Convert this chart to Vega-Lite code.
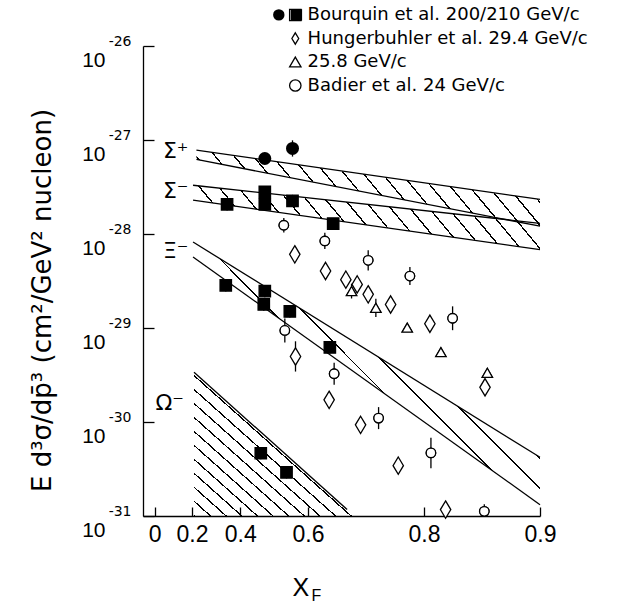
{
  "$schema": "https://vega.github.io/schema/vega-lite/v6.json",
  "width": 397,
  "height": 470,
  "autosize": "none",
  "padding": {"left": 143, "top": 46, "right": 81, "bottom": 91},
  "background": "white",
  "config": {"view": {"stroke": null}, "axis": {"grid": false}},
  "datasets": {
    "pts": [
      {"series": "sigp", "u": 0.5179, "v": 6.36e-28, "lo": 5.63e-28, "hi": 7.19e-28},
      {"series": "sigp", "u": 0.4389, "v": 8.13e-28, "lo": 6.66e-28, "hi": 9.92e-28},
      {"series": "Bourquin et al. 200/210 GeV/c", "u": 0.6489, "v": 2.07e-28, "lo": 1.78e-28, "hi": 2.40e-28},
      {"series": "Bourquin et al. 200/210 GeV/c", "u": 0.5179, "v": 2.80e-28, "lo": 2.41e-28, "hi": 3.25e-28},
      {"series": "Bourquin et al. 200/210 GeV/c", "u": 0.5179, "v": 2.07e-28, "lo": 1.78e-28, "hi": 2.40e-28},
      {"series": "Bourquin et al. 200/210 GeV/c", "u": 0.4389, "v": 2.25e-28, "lo": 1.94e-28, "hi": 2.61e-28},
      {"series": "Bourquin et al. 200/210 GeV/c", "u": 0.3442, "v": 1.29e-28},
      {"series": "Bourquin et al. 200/210 GeV/c", "u": 0.6540, "v": 2.84e-29, "lo": 2.45e-29, "hi": 3.29e-29},
      {"series": "Bourquin et al. 200/210 GeV/c", "u": 0.5179, "v": 2.47e-29, "lo": 2.13e-29, "hi": 2.87e-29},
      {"series": "Bourquin et al. 200/210 GeV/c", "u": 0.5211, "v": 1.78e-29, "lo": 1.53e-29, "hi": 2.06e-29},
      {"series": "Bourquin et al. 200/210 GeV/c", "u": 0.4460, "v": 1.50e-29, "lo": 1.29e-29, "hi": 1.74e-29},
      {"series": "Bourquin et al. 200/210 GeV/c", "u": 0.3511, "v": 6.21e-30, "lo": 5.35e-30, "hi": 7.20e-30},
      {"series": "Bourquin et al. 200/210 GeV/c", "u": 0.5305, "v": 4.65e-31, "lo": 4.01e-31, "hi": 5.39e-31},
      {"series": "Bourquin et al. 200/210 GeV/c", "u": 0.4549, "v": 2.91e-31, "lo": 2.51e-31, "hi": 3.38e-31},
      {"series": "Hungerbuhler et al. 29.4 GeV/c", "u": 0.4329, "v": 6.08e-29},
      {"series": "Hungerbuhler et al. 29.4 GeV/c", "u": 0.3603, "v": 4.04e-29},
      {"series": "Hungerbuhler et al. 29.4 GeV/c", "u": 0.3191, "v": 3.27e-29},
      {"series": "Hungerbuhler et al. 29.4 GeV/c", "u": 0.2982, "v": 2.91e-29},
      {"series": "Hungerbuhler et al. 29.4 GeV/c", "u": 0.2792, "v": 2.28e-29},
      {"series": "Hungerbuhler et al. 29.4 GeV/c", "u": 0.2442, "v": 1.78e-29},
      {"series": "Hungerbuhler et al. 29.4 GeV/c", "u": 0.1931, "v": 1.11e-29},
      {"series": "Hungerbuhler et al. 29.4 GeV/c", "u": 0.4311, "v": 4.98e-30, "lo": 3.44e-30, "hi": 7.22e-30},
      {"series": "Hungerbuhler et al. 29.4 GeV/c", "u": 0.3526, "v": 1.72e-30},
      {"series": "Hungerbuhler et al. 29.4 GeV/c", "u": 0.2922, "v": 9.32e-31},
      {"series": "Hungerbuhler et al. 29.4 GeV/c", "u": 0.2333, "v": 3.43e-31},
      {"series": "Hungerbuhler et al. 29.4 GeV/c", "u": 0.1758, "v": 1.17e-31},
      {"series": "Hungerbuhler et al. 29.4 GeV/c", "u": 0.1389, "v": 2.34e-30},
      {"series": "25.8 GeV/c", "u": 0.3084, "v": 2.47e-29, "lo": 2.06e-29, "hi": 2.96e-29},
      {"series": "25.8 GeV/c", "u": 0.2667, "v": 1.64e-29, "lo": 1.31e-29, "hi": 2.05e-29},
      {"series": "25.8 GeV/c", "u": 0.2211, "v": 1.01e-29},
      {"series": "25.8 GeV/c", "u": 0.1808, "v": 5.53e-30},
      {"series": "25.8 GeV/c", "u": 0.1370, "v": 3.34e-30},
      {"series": "Badier et al. 24 GeV/c", "u": 0.4623, "v": 1.24e-28, "lo": 1.04e-28, "hi": 1.48e-28},
      {"series": "Badier et al. 24 GeV/c", "u": 0.3618, "v": 8.43e-29, "lo": 6.91e-29, "hi": 1.03e-28},
      {"series": "Badier et al. 24 GeV/c", "u": 0.2792, "v": 5.25e-29, "lo": 4.10e-29, "hi": 6.72e-29},
      {"series": "Badier et al. 24 GeV/c", "u": 0.2176, "v": 3.57e-29, "lo": 2.86e-29, "hi": 4.46e-29},
      {"series": "Badier et al. 24 GeV/c", "u": 0.1686, "v": 1.27e-29, "lo": 9.48e-30, "hi": 1.70e-29},
      {"series": "Badier et al. 24 GeV/c", "u": 0.4595, "v": 9.42e-30, "lo": 7.03e-30, "hi": 1.26e-29},
      {"series": "Badier et al. 24 GeV/c", "u": 0.3422, "v": 3.26e-30, "lo": 2.49e-30, "hi": 4.27e-30},
      {"series": "Badier et al. 24 GeV/c", "u": 0.2624, "v": 1.10e-30, "lo": 8.40e-31, "hi": 1.44e-30},
      {"series": "Badier et al. 24 GeV/c", "u": 0.1919, "v": 4.69e-31, "lo": 3.23e-31, "hi": 6.80e-31},
      {"series": "Badier et al. 24 GeV/c", "u": 0.1395, "v": 1.12e-31, "lo": 1.12e-31, "hi": 1.33e-31}
    ],
    "edges": [
      {"edge": "sp_top", "u": 0.7793, "v": 7.80e-28}, {"edge": "sp_top", "u": 0.1, "v": 2.33e-28},
      {"edge": "sp_bot", "u": 0.7793, "v": 6.21e-28}, {"edge": "sp_bot", "u": 0.1, "v": 1.21e-28},
      {"edge": "sm_top", "u": 0.7953, "v": 3.30e-28}, {"edge": "sm_top", "u": 0.1, "v": 1.30e-28},
      {"edge": "sm_bot", "u": 0.7953, "v": 2.29e-28}, {"edge": "sm_bot", "u": 0.1, "v": 6.82e-29},
      {"edge": "xi_top", "u": 0.7953, "v": 8.22e-29}, {"edge": "xi_top", "u": 0.1, "v": 4.21e-31},
      {"edge": "xi_bot", "u": 0.7953, "v": 5.69e-29}, {"edge": "xi_bot", "u": 0.1, "v": 1.32e-31},
      {"edge": "om_top", "u": 0.7906, "v": 3.39e-30}, {"edge": "om_top", "u": 0.3166, "v": 1.17e-31}
    ],
    "bands": [
      {"band": "sp", "u": 0.7793, "v": 7.80e-28, "v2": 6.21e-28},
      {"band": "sp", "u": 0.1, "v": 2.33e-28, "v2": 1.21e-28},
      {"band": "sm", "u": 0.7953, "v": 3.30e-28, "v2": 2.29e-28},
      {"band": "sm", "u": 0.1, "v": 1.30e-28, "v2": 6.82e-29},
      {"band": "xi", "u": 0.7953, "v": 8.22e-29, "v2": 5.69e-29},
      {"band": "xi", "u": 0.1, "v": 4.21e-31, "v2": 1.32e-31},
      {"band": "om", "u": 0.7906, "v": 3.39e-30, "v2": 1e-31},
      {"band": "om", "u": 0.3023, "v": 1e-31, "v2": 1e-31}
    ],
    "labels": [
      {"t": "Σ⁺", "u": 0.882, "v": 7.61e-28},
      {"t": "Σ⁻", "u": 0.882, "v": 2.85e-28},
      {"t": "Ξ⁻", "u": 0.882, "v": 6.54e-29},
      {"t": "Ω⁻", "u": 0.914, "v": 1.61e-30}
    ]
  },
  "encoding": {
    "x": {"field": "u", "type": "quantitative", "scale": {"type": "log", "domain": [0.1, 1.0725], "reverse": true, "nice": false}, "axis": null},
    "y": {"field": "v", "type": "quantitative", "scale": {"type": "log", "domain": [1e-31, 1e-26], "nice": false}, "axis": null}
  },
  "layer": [
    {
      "data": {"name": "bands"},
      "transform": [{"filter": "datum.band == 'sp'"}],
      "mark": {"type": "area", "opacity": 1, "stroke": null, "fill": {"gradient": "linear", "x1": 0, "y1": 1, "x2": 1.289, "y2": 0.7617, "stops": [
        {"offset": 0, "color": "#000"}, {"offset": 0.00375, "color": "#000"}, {"offset": 0.00375, "color": "transparent"}, {"offset": 0.041667, "color": "transparent"},
        {"offset": 0.041667, "color": "#000"}, {"offset": 0.045417, "color": "#000"}, {"offset": 0.045417, "color": "transparent"}, {"offset": 0.083333, "color": "transparent"},
        {"offset": 0.083333, "color": "#000"}, {"offset": 0.087083, "color": "#000"}, {"offset": 0.087083, "color": "transparent"}, {"offset": 0.125, "color": "transparent"},
        {"offset": 0.125, "color": "#000"}, {"offset": 0.12875, "color": "#000"}, {"offset": 0.12875, "color": "transparent"}, {"offset": 0.166667, "color": "transparent"},
        {"offset": 0.166667, "color": "#000"}, {"offset": 0.170417, "color": "#000"}, {"offset": 0.170417, "color": "transparent"}, {"offset": 0.208333, "color": "transparent"},
        {"offset": 0.208333, "color": "#000"}, {"offset": 0.212083, "color": "#000"}, {"offset": 0.212083, "color": "transparent"}, {"offset": 0.25, "color": "transparent"},
        {"offset": 0.25, "color": "#000"}, {"offset": 0.25375, "color": "#000"}, {"offset": 0.25375, "color": "transparent"}, {"offset": 0.291667, "color": "transparent"},
        {"offset": 0.291667, "color": "#000"}, {"offset": 0.295417, "color": "#000"}, {"offset": 0.295417, "color": "transparent"}, {"offset": 0.333333, "color": "transparent"},
        {"offset": 0.333333, "color": "#000"}, {"offset": 0.337083, "color": "#000"}, {"offset": 0.337083, "color": "transparent"}, {"offset": 0.375, "color": "transparent"},
        {"offset": 0.375, "color": "#000"}, {"offset": 0.37875, "color": "#000"}, {"offset": 0.37875, "color": "transparent"}, {"offset": 0.416667, "color": "transparent"},
        {"offset": 0.416667, "color": "#000"}, {"offset": 0.420417, "color": "#000"}, {"offset": 0.420417, "color": "transparent"}, {"offset": 0.458333, "color": "transparent"},
        {"offset": 0.458333, "color": "#000"}, {"offset": 0.462083, "color": "#000"}, {"offset": 0.462083, "color": "transparent"}, {"offset": 0.5, "color": "transparent"},
        {"offset": 0.5, "color": "#000"}, {"offset": 0.50375, "color": "#000"}, {"offset": 0.50375, "color": "transparent"}, {"offset": 0.541667, "color": "transparent"},
        {"offset": 0.541667, "color": "#000"}, {"offset": 0.545417, "color": "#000"}, {"offset": 0.545417, "color": "transparent"}, {"offset": 0.583333, "color": "transparent"},
        {"offset": 0.583333, "color": "#000"}, {"offset": 0.587083, "color": "#000"}, {"offset": 0.587083, "color": "transparent"}, {"offset": 0.625, "color": "transparent"},
        {"offset": 0.625, "color": "#000"}, {"offset": 0.62875, "color": "#000"}, {"offset": 0.62875, "color": "transparent"}, {"offset": 0.666667, "color": "transparent"},
        {"offset": 0.666667, "color": "#000"}, {"offset": 0.670417, "color": "#000"}, {"offset": 0.670417, "color": "transparent"}, {"offset": 0.708333, "color": "transparent"},
        {"offset": 0.708333, "color": "#000"}, {"offset": 0.712083, "color": "#000"}, {"offset": 0.712083, "color": "transparent"}, {"offset": 0.75, "color": "transparent"},
        {"offset": 0.75, "color": "#000"}, {"offset": 0.75375, "color": "#000"}, {"offset": 0.75375, "color": "transparent"}, {"offset": 0.791667, "color": "transparent"},
        {"offset": 0.791667, "color": "#000"}, {"offset": 0.795417, "color": "#000"}, {"offset": 0.795417, "color": "transparent"}, {"offset": 0.833333, "color": "transparent"},
        {"offset": 0.833333, "color": "#000"}, {"offset": 0.837083, "color": "#000"}, {"offset": 0.837083, "color": "transparent"}, {"offset": 0.875, "color": "transparent"},
        {"offset": 0.875, "color": "#000"}, {"offset": 0.87875, "color": "#000"}, {"offset": 0.87875, "color": "transparent"}, {"offset": 0.916667, "color": "transparent"},
        {"offset": 0.916667, "color": "#000"}, {"offset": 0.920417, "color": "#000"}, {"offset": 0.920417, "color": "transparent"}, {"offset": 1, "color": "transparent"}
      ]}},
      "encoding": {"y2": {"field": "v2"}}
    },
    {
      "data": {"name": "bands"},
      "transform": [{"filter": "datum.band == 'sm'"}],
      "mark": {"type": "area", "opacity": 1, "stroke": null, "fill": {"gradient": "linear", "x1": 0, "y1": 1, "x2": 1.302, "y2": 0.7983, "stops": [
        {"offset": 0, "color": "#000"}, {"offset": 0.00375, "color": "#000"}, {"offset": 0.00375, "color": "transparent"}, {"offset": 0.041667, "color": "transparent"},
        {"offset": 0.041667, "color": "#000"}, {"offset": 0.045417, "color": "#000"}, {"offset": 0.045417, "color": "transparent"}, {"offset": 0.083333, "color": "transparent"},
        {"offset": 0.083333, "color": "#000"}, {"offset": 0.087083, "color": "#000"}, {"offset": 0.087083, "color": "transparent"}, {"offset": 0.125, "color": "transparent"},
        {"offset": 0.125, "color": "#000"}, {"offset": 0.12875, "color": "#000"}, {"offset": 0.12875, "color": "transparent"}, {"offset": 0.166667, "color": "transparent"},
        {"offset": 0.166667, "color": "#000"}, {"offset": 0.170417, "color": "#000"}, {"offset": 0.170417, "color": "transparent"}, {"offset": 0.208333, "color": "transparent"},
        {"offset": 0.208333, "color": "#000"}, {"offset": 0.212083, "color": "#000"}, {"offset": 0.212083, "color": "transparent"}, {"offset": 0.25, "color": "transparent"},
        {"offset": 0.25, "color": "#000"}, {"offset": 0.25375, "color": "#000"}, {"offset": 0.25375, "color": "transparent"}, {"offset": 0.291667, "color": "transparent"},
        {"offset": 0.291667, "color": "#000"}, {"offset": 0.295417, "color": "#000"}, {"offset": 0.295417, "color": "transparent"}, {"offset": 0.333333, "color": "transparent"},
        {"offset": 0.333333, "color": "#000"}, {"offset": 0.337083, "color": "#000"}, {"offset": 0.337083, "color": "transparent"}, {"offset": 0.375, "color": "transparent"},
        {"offset": 0.375, "color": "#000"}, {"offset": 0.37875, "color": "#000"}, {"offset": 0.37875, "color": "transparent"}, {"offset": 0.416667, "color": "transparent"},
        {"offset": 0.416667, "color": "#000"}, {"offset": 0.420417, "color": "#000"}, {"offset": 0.420417, "color": "transparent"}, {"offset": 0.458333, "color": "transparent"},
        {"offset": 0.458333, "color": "#000"}, {"offset": 0.462083, "color": "#000"}, {"offset": 0.462083, "color": "transparent"}, {"offset": 0.5, "color": "transparent"},
        {"offset": 0.5, "color": "#000"}, {"offset": 0.50375, "color": "#000"}, {"offset": 0.50375, "color": "transparent"}, {"offset": 0.541667, "color": "transparent"},
        {"offset": 0.541667, "color": "#000"}, {"offset": 0.545417, "color": "#000"}, {"offset": 0.545417, "color": "transparent"}, {"offset": 0.583333, "color": "transparent"},
        {"offset": 0.583333, "color": "#000"}, {"offset": 0.587083, "color": "#000"}, {"offset": 0.587083, "color": "transparent"}, {"offset": 0.625, "color": "transparent"},
        {"offset": 0.625, "color": "#000"}, {"offset": 0.62875, "color": "#000"}, {"offset": 0.62875, "color": "transparent"}, {"offset": 0.666667, "color": "transparent"},
        {"offset": 0.666667, "color": "#000"}, {"offset": 0.670417, "color": "#000"}, {"offset": 0.670417, "color": "transparent"}, {"offset": 0.708333, "color": "transparent"},
        {"offset": 0.708333, "color": "#000"}, {"offset": 0.712083, "color": "#000"}, {"offset": 0.712083, "color": "transparent"}, {"offset": 0.75, "color": "transparent"},
        {"offset": 0.75, "color": "#000"}, {"offset": 0.75375, "color": "#000"}, {"offset": 0.75375, "color": "transparent"}, {"offset": 0.791667, "color": "transparent"},
        {"offset": 0.791667, "color": "#000"}, {"offset": 0.795417, "color": "#000"}, {"offset": 0.795417, "color": "transparent"}, {"offset": 0.833333, "color": "transparent"},
        {"offset": 0.833333, "color": "#000"}, {"offset": 0.837083, "color": "#000"}, {"offset": 0.837083, "color": "transparent"}, {"offset": 0.875, "color": "transparent"},
        {"offset": 0.875, "color": "#000"}, {"offset": 0.87875, "color": "#000"}, {"offset": 0.87875, "color": "transparent"}, {"offset": 1, "color": "transparent"}
      ]}},
      "encoding": {"y2": {"field": "v2"}}
    },
    {
      "data": {"name": "bands"},
      "transform": [{"filter": "datum.band == 'xi'"}],
      "mark": {"type": "area", "opacity": 1, "stroke": null, "fill": {"gradient": "linear", "x1": 0, "y1": 1, "x2": 1.327, "y2": -0.004, "stops": [
        {"offset": 0, "color": "#000"}, {"offset": 0.0026, "color": "#000"}, {"offset": 0.0026, "color": "transparent"}, {"offset": 0.041667, "color": "transparent"},
        {"offset": 0.041667, "color": "#000"}, {"offset": 0.044267, "color": "#000"}, {"offset": 0.044267, "color": "transparent"}, {"offset": 0.083333, "color": "transparent"},
        {"offset": 0.083333, "color": "#000"}, {"offset": 0.085933, "color": "#000"}, {"offset": 0.085933, "color": "transparent"}, {"offset": 0.125, "color": "transparent"},
        {"offset": 0.125, "color": "#000"}, {"offset": 0.1276, "color": "#000"}, {"offset": 0.1276, "color": "transparent"}, {"offset": 0.166667, "color": "transparent"},
        {"offset": 0.166667, "color": "#000"}, {"offset": 0.169267, "color": "#000"}, {"offset": 0.169267, "color": "transparent"}, {"offset": 0.208333, "color": "transparent"},
        {"offset": 0.208333, "color": "#000"}, {"offset": 0.210933, "color": "#000"}, {"offset": 0.210933, "color": "transparent"}, {"offset": 0.25, "color": "transparent"},
        {"offset": 0.25, "color": "#000"}, {"offset": 0.2526, "color": "#000"}, {"offset": 0.2526, "color": "transparent"}, {"offset": 0.291667, "color": "transparent"},
        {"offset": 0.291667, "color": "#000"}, {"offset": 0.294267, "color": "#000"}, {"offset": 0.294267, "color": "transparent"}, {"offset": 0.333333, "color": "transparent"},
        {"offset": 0.333333, "color": "#000"}, {"offset": 0.335933, "color": "#000"}, {"offset": 0.335933, "color": "transparent"}, {"offset": 0.375, "color": "transparent"},
        {"offset": 0.375, "color": "#000"}, {"offset": 0.3776, "color": "#000"}, {"offset": 0.3776, "color": "transparent"}, {"offset": 0.416667, "color": "transparent"},
        {"offset": 0.416667, "color": "#000"}, {"offset": 0.419267, "color": "#000"}, {"offset": 0.419267, "color": "transparent"}, {"offset": 0.458333, "color": "transparent"},
        {"offset": 0.458333, "color": "#000"}, {"offset": 0.460933, "color": "#000"}, {"offset": 0.460933, "color": "transparent"}, {"offset": 0.5, "color": "transparent"},
        {"offset": 0.5, "color": "#000"}, {"offset": 0.5026, "color": "#000"}, {"offset": 0.5026, "color": "transparent"}, {"offset": 0.541667, "color": "transparent"},
        {"offset": 0.541667, "color": "#000"}, {"offset": 0.544267, "color": "#000"}, {"offset": 0.544267, "color": "transparent"}, {"offset": 0.583333, "color": "transparent"},
        {"offset": 0.583333, "color": "#000"}, {"offset": 0.585933, "color": "#000"}, {"offset": 0.585933, "color": "transparent"}, {"offset": 0.625, "color": "transparent"},
        {"offset": 0.625, "color": "#000"}, {"offset": 0.6276, "color": "#000"}, {"offset": 0.6276, "color": "transparent"}, {"offset": 0.666667, "color": "transparent"},
        {"offset": 0.666667, "color": "#000"}, {"offset": 0.669267, "color": "#000"}, {"offset": 0.669267, "color": "transparent"}, {"offset": 0.708333, "color": "transparent"},
        {"offset": 0.708333, "color": "#000"}, {"offset": 0.710933, "color": "#000"}, {"offset": 0.710933, "color": "transparent"}, {"offset": 0.75, "color": "transparent"},
        {"offset": 0.75, "color": "#000"}, {"offset": 0.7526, "color": "#000"}, {"offset": 0.7526, "color": "transparent"}, {"offset": 0.791667, "color": "transparent"},
        {"offset": 0.791667, "color": "#000"}, {"offset": 0.794267, "color": "#000"}, {"offset": 0.794267, "color": "transparent"}, {"offset": 0.833333, "color": "transparent"},
        {"offset": 0.833333, "color": "#000"}, {"offset": 0.835933, "color": "#000"}, {"offset": 0.835933, "color": "transparent"}, {"offset": 1, "color": "transparent"}
      ]}},
      "encoding": {"y2": {"field": "v2"}}
    },
    {
      "data": {"name": "bands"},
      "transform": [{"filter": "datum.band == 'om'"}],
      "mark": {"type": "area", "opacity": 1, "stroke": null, "fill": {"gradient": "linear", "x1": 0, "y1": 1, "x2": 1.165, "y2": -0.165, "stops": [
        {"offset": 0, "color": "#000"}, {"offset": 0.005, "color": "#000"}, {"offset": 0.005, "color": "transparent"}, {"offset": 0.041667, "color": "transparent"},
        {"offset": 0.041667, "color": "#000"}, {"offset": 0.046667, "color": "#000"}, {"offset": 0.046667, "color": "transparent"}, {"offset": 0.083333, "color": "transparent"},
        {"offset": 0.083333, "color": "#000"}, {"offset": 0.088333, "color": "#000"}, {"offset": 0.088333, "color": "transparent"}, {"offset": 0.125, "color": "transparent"},
        {"offset": 0.125, "color": "#000"}, {"offset": 0.13, "color": "#000"}, {"offset": 0.13, "color": "transparent"}, {"offset": 0.166667, "color": "transparent"},
        {"offset": 0.166667, "color": "#000"}, {"offset": 0.171667, "color": "#000"}, {"offset": 0.171667, "color": "transparent"}, {"offset": 0.208333, "color": "transparent"},
        {"offset": 0.208333, "color": "#000"}, {"offset": 0.213333, "color": "#000"}, {"offset": 0.213333, "color": "transparent"}, {"offset": 0.25, "color": "transparent"},
        {"offset": 0.25, "color": "#000"}, {"offset": 0.255, "color": "#000"}, {"offset": 0.255, "color": "transparent"}, {"offset": 0.291667, "color": "transparent"},
        {"offset": 0.291667, "color": "#000"}, {"offset": 0.296667, "color": "#000"}, {"offset": 0.296667, "color": "transparent"}, {"offset": 0.333333, "color": "transparent"},
        {"offset": 0.333333, "color": "#000"}, {"offset": 0.338333, "color": "#000"}, {"offset": 0.338333, "color": "transparent"}, {"offset": 0.375, "color": "transparent"},
        {"offset": 0.375, "color": "#000"}, {"offset": 0.38, "color": "#000"}, {"offset": 0.38, "color": "transparent"}, {"offset": 0.416667, "color": "transparent"},
        {"offset": 0.416667, "color": "#000"}, {"offset": 0.421667, "color": "#000"}, {"offset": 0.421667, "color": "transparent"}, {"offset": 0.458333, "color": "transparent"},
        {"offset": 0.458333, "color": "#000"}, {"offset": 0.463333, "color": "#000"}, {"offset": 0.463333, "color": "transparent"}, {"offset": 0.5, "color": "transparent"},
        {"offset": 0.5, "color": "#000"}, {"offset": 0.505, "color": "#000"}, {"offset": 0.505, "color": "transparent"}, {"offset": 0.541667, "color": "transparent"},
        {"offset": 0.541667, "color": "#000"}, {"offset": 0.546667, "color": "#000"}, {"offset": 0.546667, "color": "transparent"}, {"offset": 0.583333, "color": "transparent"},
        {"offset": 0.583333, "color": "#000"}, {"offset": 0.588333, "color": "#000"}, {"offset": 0.588333, "color": "transparent"}, {"offset": 0.625, "color": "transparent"},
        {"offset": 0.625, "color": "#000"}, {"offset": 0.63, "color": "#000"}, {"offset": 0.63, "color": "transparent"}, {"offset": 0.666667, "color": "transparent"},
        {"offset": 0.666667, "color": "#000"}, {"offset": 0.671667, "color": "#000"}, {"offset": 0.671667, "color": "transparent"}, {"offset": 0.708333, "color": "transparent"},
        {"offset": 0.708333, "color": "#000"}, {"offset": 0.713333, "color": "#000"}, {"offset": 0.713333, "color": "transparent"}, {"offset": 0.75, "color": "transparent"},
        {"offset": 0.75, "color": "#000"}, {"offset": 0.755, "color": "#000"}, {"offset": 0.755, "color": "transparent"}, {"offset": 0.791667, "color": "transparent"},
        {"offset": 0.791667, "color": "#000"}, {"offset": 0.796667, "color": "#000"}, {"offset": 0.796667, "color": "transparent"}, {"offset": 0.833333, "color": "transparent"},
        {"offset": 0.833333, "color": "#000"}, {"offset": 0.838333, "color": "#000"}, {"offset": 0.838333, "color": "transparent"}, {"offset": 1, "color": "transparent"}
      ]}},
      "encoding": {"y2": {"field": "v2"}}
    },
    {
      "data": {"name": "edges"},
      "mark": {"type": "line", "stroke": "black", "strokeWidth": 1.3},
      "encoding": {"detail": {"field": "edge", "type": "nominal"}}
    },
    {
      "data": {"name": "pts"},
      "mark": {"type": "rule", "stroke": "black", "strokeWidth": 1.3},
      "encoding": {
        "x": {"field": "u", "type": "quantitative", "scale": {"type": "log", "domain": [0.1, 1.0725], "reverse": true, "nice": false},
          "axis": {"orient": "bottom", "labels": false, "ticks": false, "domain": false, "grid": false, "title": "F", "titleFont": "Liberation Sans", "titleFontSize": 16, "titleFontWeight": "normal", "titleColor": "black", "titleX": 168, "titleY": 84, "titleAlign": "left", "titleBaseline": "alphabetic"}},
        "y": {"field": "lo", "type": "quantitative", "scale": {"type": "log", "domain": [1e-31, 1e-26], "nice": false},
          "axis": {"orient": "left", "values": [1e-26, 1e-27, 1e-28, 1e-29, 1e-30, 1e-31], "labelExpr": "'-' + round(-log(datum.value)/LN10)", "labelFont": "DejaVu Sans", "labelFontSize": 14, "labelColor": "black", "labelBaseline": "alphabetic", "labelOffset": -1, "labelPadding": 12, "labelFlush": false, "labelOverlap": false, "ticks": false, "domain": false, "grid": false, "title": null}},
        "y2": {"field": "hi"}
      }
    },
    {
      "data": {"name": "pts"},
      "transform": [{"filter": "datum.series != 'sigp'"}],
      "mark": {"type": "point", "filled": false, "stroke": "black", "strokeWidth": 1.3, "size": 90, "opacity": 1},
      "encoding": {
        "x": {"field": "u", "type": "quantitative", "scale": {"type": "log", "domain": [0.1, 1.0725], "reverse": true, "nice": false},
          "axis": {"orient": "bottom", "values": [1, 0.8, 0.6, 0.4, 0.2, 0.1], "labelExpr": "datum.value > 0.99 ? '0' : format(1 - datum.value, '.1f')", "labelFont": "Liberation Sans", "labelFontSize": 23, "labelColor": "black", "labelPadding": 16, "labelFlush": false, "labelOverlap": false, "tickSize": -9, "tickColor": "black", "tickWidth": 1.3, "domainColor": "black", "domainWidth": 1.3, "grid": false, "title": "X", "titleFont": "Liberation Sans", "titleFontSize": 25, "titleFontWeight": "normal", "titleColor": "black", "titleX": 149, "titleY": 79, "titleAlign": "left", "titleBaseline": "alphabetic"}},
        "y": {"field": "v", "type": "quantitative", "scale": {"type": "log", "domain": [1e-31, 1e-26], "nice": false},
          "axis": {"orient": "left", "values": [1e-26, 1e-27, 1e-28, 1e-29, 1e-30, 1e-31], "labelExpr": "'10'", "labelFont": "Liberation Sans", "labelFontSize": 21, "labelColor": "black", "labelBaseline": "alphabetic", "labelOffset": 20.5, "labelPadding": 49, "labelFlush": false, "labelOverlap": false, "tickSize": -11, "tickColor": "black", "tickWidth": 1.3, "domainColor": "black", "domainWidth": 1.3, "grid": false, "title": "E  d³σ/dp̄³   (cm²/GeV² nucleon)", "titleFont": "DejaVu Sans", "titleFontSize": 26, "titleFontWeight": "normal", "titleColor": "black", "titleX": -93, "titleY": 254, "titleAngle": -90, "titleAlign": "center", "titleBaseline": "alphabetic"}},
        "shape": {"field": "series", "type": "nominal",
          "scale": {"domain": ["Bourquin et al. 200/210 GeV/c", "Hungerbuhler et al. 29.4 GeV/c", "25.8 GeV/c", "Badier et al. 24 GeV/c"], "range": ["square", "M0,-1L0.6,0L0,1L-0.6,0Z", "triangle-up", "circle"]},
          "legend": {"title": null, "orient": "none", "legendX": 143.3, "legendY": -40, "padding": 0, "rowPadding": 5.5, "symbolSize": 130, "symbolStrokeColor": "black", "symbolStrokeWidth": 1.3, "labelFont": "DejaVu Sans", "labelFontSize": 18, "labelColor": "black", "labelOffset": 3.3, "labelLimit": 500}}
      }
    },
    {
      "data": {"name": "pts"},
      "transform": [{"filter": "datum.series == 'Badier et al. 24 GeV/c'"}],
      "mark": {"type": "point", "shape": "circle", "filled": true, "fill": "white", "stroke": "black", "strokeWidth": 1.3, "size": 90, "opacity": 1}
    },
    {
      "data": {"name": "pts"},
      "transform": [{"filter": "datum.series == 'Bourquin et al. 200/210 GeV/c'"}],
      "mark": {"type": "point", "shape": "square", "filled": true, "fill": "black", "stroke": "black", "strokeWidth": 1.3, "size": 130, "opacity": 1}
    },
    {
      "data": {"name": "pts"},
      "transform": [{"filter": "datum.series == 'Hungerbuhler et al. 29.4 GeV/c'"}],
      "mark": {"type": "point", "shape": "M0,-1L0.6,0L0,1L-0.6,0Z", "filled": true, "fill": "white", "stroke": "black", "strokeWidth": 1.3, "size": 300, "opacity": 1}
    },
    {
      "data": {"name": "pts"},
      "transform": [{"filter": "datum.series == '25.8 GeV/c'"}],
      "mark": {"type": "point", "shape": "triangle-up", "filled": true, "fill": "white", "stroke": "black", "strokeWidth": 1.3, "size": 110, "opacity": 1}
    },
    {
      "data": {"name": "pts"},
      "transform": [{"filter": "datum.series == 'sigp'"}],
      "mark": {"type": "point", "filled": true, "fill": "black", "stroke": "black", "size": 121, "opacity": 1},
      "encoding": {
        "shape": {"field": "series", "type": "nominal", "scale": {"domain": ["sigp", "sq"], "range": ["circle", "square"]},
          "legend": {"title": null, "orient": "none", "direction": "horizontal", "columns": 2, "columnPadding": 0.6, "legendX": 129.3, "legendY": -37.7, "padding": 0, "labelExpr": "''", "labelOffset": 0, "labelFontSize": 1, "symbolFillColor": "black", "symbolStrokeColor": "black", "symbolStrokeWidth": 1.3, "symbolSize": 130}}
      }
    },
    {
      "data": {"name": "labels"},
      "mark": {"type": "text", "font": "DejaVu Sans", "fontSize": 22, "align": "center", "baseline": "middle", "color": "black"},
      "encoding": {"text": {"field": "t", "type": "nominal"}}
    }
  ],
  "resolve": {"scale": {"shape": "independent"}, "axis": {"x": "independent", "y": "independent"}}
}
